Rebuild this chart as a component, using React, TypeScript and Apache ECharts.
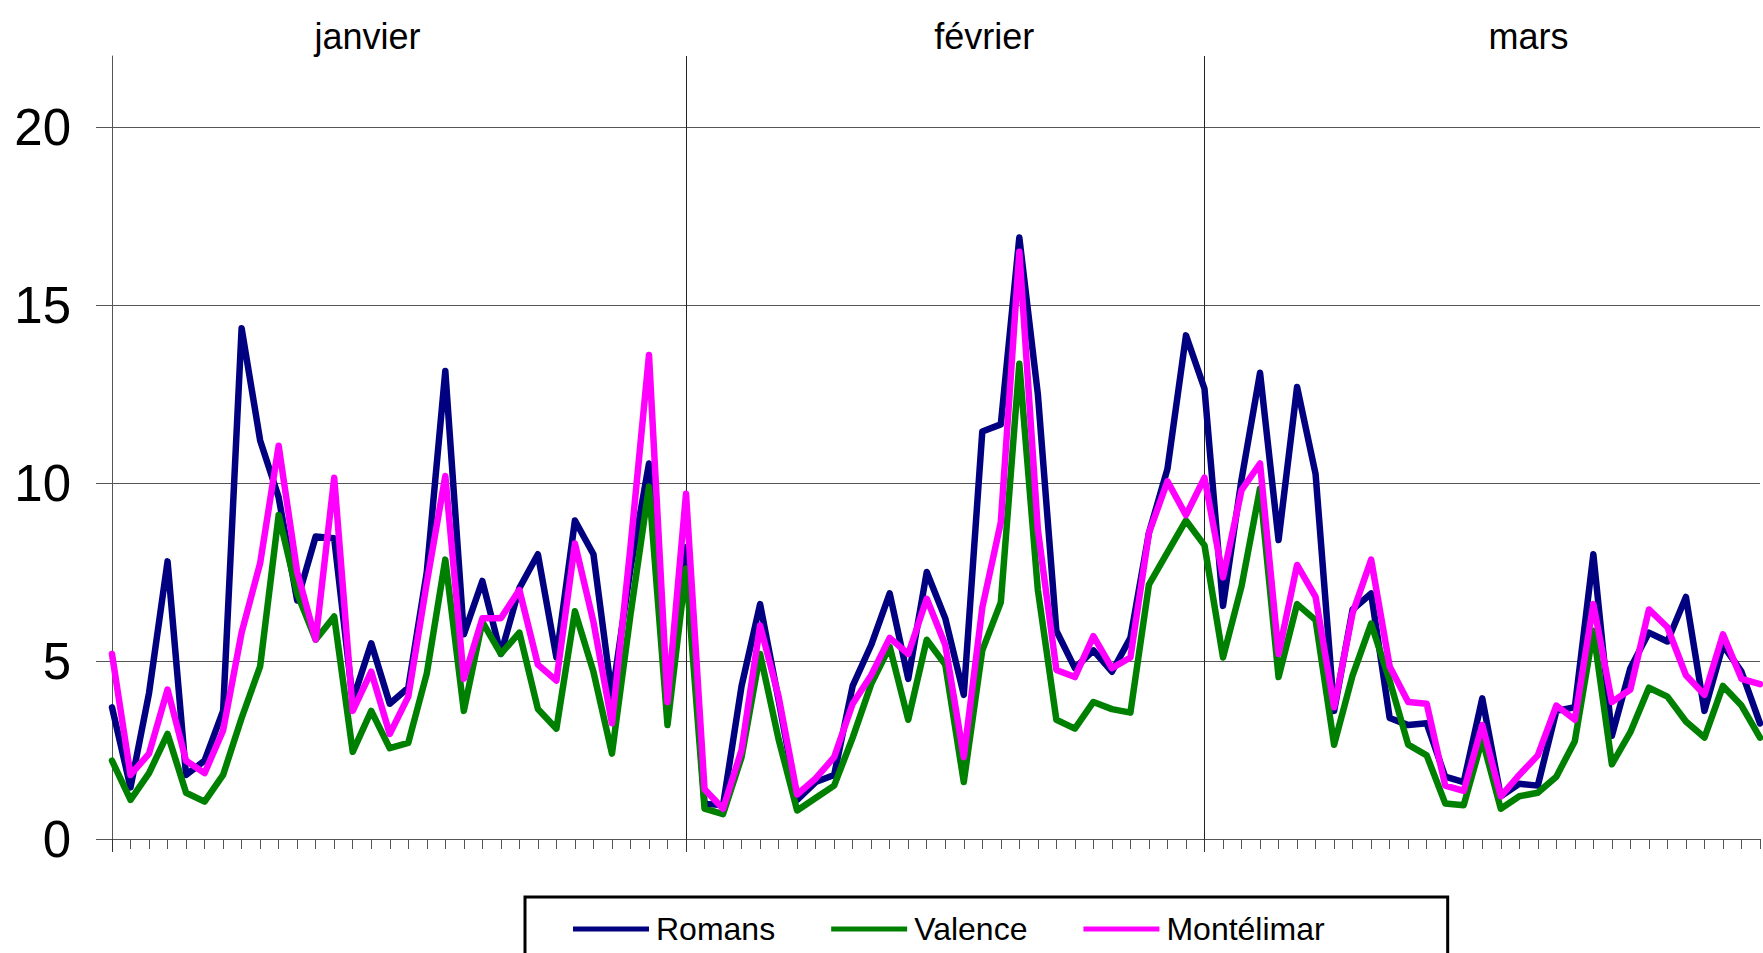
import { useEffect, useRef } from 'react';
import * as echarts from 'echarts';

const FONT = '"Liberation Sans", Arial, Helvetica, sans-serif';

const monthNames = ['janvier', 'février', 'mars'];
const monthDays = [31, 28, 31];
const monthLabelAt = [13.8, 47.1, 76.5];
const yTicks = [0, 5, 10, 15, 20];
const seriesNames = ['Romans', 'Valence', 'Montélimar'];
const seriesColors = ['#000080', '#008000', '#FF00FF'];

const romans = [
  3.7, 1.45, 4.1, 7.8, 1.8, 2.2, 3.6, 14.35, 11.2, 9.6,
  6.7, 8.5, 8.45, 3.9, 5.5, 3.8, 4.25, 7.5, 13.15, 5.75,
  7.25, 5.2, 7.05, 8.0, 5.1, 8.95, 8.0, 4.0, 7.6, 10.55,
  3.95, 8.2, 1.0, 0.95, 4.3, 6.6, 3.9, 1.1, 1.6, 1.8,
  4.3, 5.45, 6.9, 4.5, 7.5, 6.2, 4.05, 11.45, 11.65, 16.9,
  12.5, 5.85, 4.8, 5.3, 4.7, 5.65, 8.6, 10.4, 14.15, 12.65,
  6.55, 10.1, 13.1, 8.4, 12.7, 10.25, 3.6, 6.45, 6.9, 3.4,
  3.2, 3.25, 1.75, 1.6, 3.95, 1.2, 1.55, 1.5, 3.6, 3.7,
  8.0, 2.9, 4.8, 5.8, 5.55, 6.8, 3.6, 5.45, 4.7, 3.25,
];

const valence = [
  2.2, 1.1, 1.85, 2.95, 1.3, 1.05, 1.8, 3.4, 4.85, 9.1,
  6.9, 5.6, 6.25, 2.45, 3.6, 2.55, 2.7, 4.65, 7.85, 3.6,
  6.1, 5.2, 5.8, 3.65, 3.1, 6.4, 4.7, 2.4, 6.3, 9.9,
  3.2, 7.6, 0.85, 0.7, 2.3, 5.2, 2.8, 0.8, 1.15, 1.5,
  2.85, 4.35, 5.4, 3.35, 5.6, 4.9, 1.6, 5.3, 6.65, 13.35,
  7.0, 3.35, 3.1, 3.85, 3.65, 3.55, 7.15, 8.05, 8.95, 8.25,
  5.1, 7.1, 9.85, 4.55, 6.6, 6.15, 2.65, 4.6, 6.05, 4.45,
  2.65, 2.35, 1.0, 0.95, 2.8, 0.85, 1.2, 1.3, 1.75, 2.75,
  5.85, 2.1, 3.0, 4.25, 4.0, 3.3, 2.85, 4.3, 3.75, 2.85,
];

const montelimar = [
  5.2, 1.8, 2.4, 4.2, 2.2, 1.85, 3.05, 5.8, 7.75, 11.05,
  7.5, 5.6, 10.15, 3.6, 4.7, 2.95, 4.0, 7.2, 10.2, 4.5,
  6.2, 6.2, 7.0, 4.9, 4.45, 8.3, 6.1, 3.25, 8.2, 13.6,
  3.85, 9.7, 1.4, 0.85, 2.5, 6.0, 4.0, 1.25, 1.7, 2.3,
  3.8, 4.6, 5.65, 5.2, 6.75, 5.45, 2.3, 6.5, 8.9, 16.5,
  8.7, 4.75, 4.55, 5.7, 4.8, 5.1, 8.6, 10.05, 9.1, 10.15,
  7.35, 9.8, 10.55, 5.2, 7.7, 6.8, 3.7, 6.35, 7.85, 4.85,
  3.85, 3.8, 1.5, 1.35, 3.2, 1.2, 1.8, 2.35, 3.75, 3.35,
  6.6, 3.85, 4.2, 6.45, 5.95, 4.6, 4.05, 5.75, 4.5, 4.35,
];

const seriesValues = [romans, valence, montelimar];

const categories = monthNames.flatMap((m, k) =>
  Array.from({ length: monthDays[k] }, (_, d) => `${d + 1} ${m}`)
);
const monthStarts = monthDays.map((_, k) =>
  monthDays.slice(0, k).reduce((a, b) => a + b, 0)
);

export default function App() {
  const ref = useRef<HTMLDivElement>(null);

  useEffect(() => {
    if (!ref.current) return;
    const chart = echarts.init(ref.current, undefined, { renderer: 'svg' });
    chart.setOption({
      animation: false,
      backgroundColor: '#ffffff',
      textStyle: { fontFamily: FONT },
      grid: { left: 112, right: 3, top: 56, bottom: 114, containLabel: false },
      xAxis: [
        {
          type: 'category',
          data: categories,
          boundaryGap: false,
          position: 'bottom',
          axisLine: { show: true, lineStyle: { color: '#555555', width: 1 } },
          axisTick: { show: true, interval: 0, length: 10, lineStyle: { color: '#555555' } },
          axisLabel: { show: false },
          splitLine: {
            show: true,
            interval: (i: number) => i > 0 && monthStarts.includes(i),
            lineStyle: { color: '#222222', width: 1 },
          },
        },
        {
          type: 'category',
          data: categories,
          boundaryGap: false,
          position: 'bottom',
          axisLine: { show: false },
          axisTick: {
            show: true,
            interval: (i: number) => monthStarts.includes(i),
            length: 13,
            lineStyle: { color: '#333333' },
          },
          axisLabel: { show: false },
          splitLine: { show: false },
        },
        {
          type: 'value',
          position: 'top',
          min: 0,
          max: categories.length - 1,
          axisLine: { show: false },
          axisTick: { show: false },
          splitLine: { show: false },
          axisLabel: {
            customValues: monthLabelAt,
            formatter: (v: number) => {
              const k = monthLabelAt.indexOf(v);
              return k >= 0 ? monthNames[k] : '';
            },
            fontSize: 36,
            color: '#000000',
            fontFamily: FONT,
            margin: 2,
          },
        },
      ],
      yAxis: {
        type: 'value',
        min: 0,
        max: 22,
        interval: 5,
        axisLine: { show: true, lineStyle: { color: '#555555', width: 1 } },
        axisTick: { show: true, length: 16, customValues: yTicks, lineStyle: { color: '#555555' } },
        axisLabel: {
          customValues: yTicks,
          fontSize: 51,
          color: '#000000',
          fontFamily: FONT,
          margin: 41,
        },
        splitLine: { show: true, lineStyle: { color: '#555555', width: 1 } },
      },
      legend: {
        data: seriesNames,
        left: 525,
        top: 897,
        orient: 'horizontal',
        icon: 'rect',
        itemWidth: 76,
        itemHeight: 5,
        itemGap: 56,
        padding: [16, 123, 60, 48],
        borderColor: '#000000',
        borderWidth: 3,
        backgroundColor: '#ffffff',
        textStyle: { fontSize: 32, color: '#000000', fontFamily: FONT, padding: [0, 0, 0, 2] },
      },
      series: seriesNames.map((name, k) => ({
        name,
        type: 'line',
        xAxisIndex: 0,
        yAxisIndex: 0,
        data: seriesValues[k],
        symbol: 'none',
        showSymbol: false,
        lineStyle: { color: seriesColors[k], width: 6.5, cap: 'round', join: 'round' },
        itemStyle: { color: seriesColors[k] },
      })),
    });
    return () => chart.dispose();
  }, []);

  return (
    <div
      ref={ref}
      style={{ position: 'fixed', left: 0, top: 0, width: 1763, height: 953, background: '#fff' }}
    />
  );
}
